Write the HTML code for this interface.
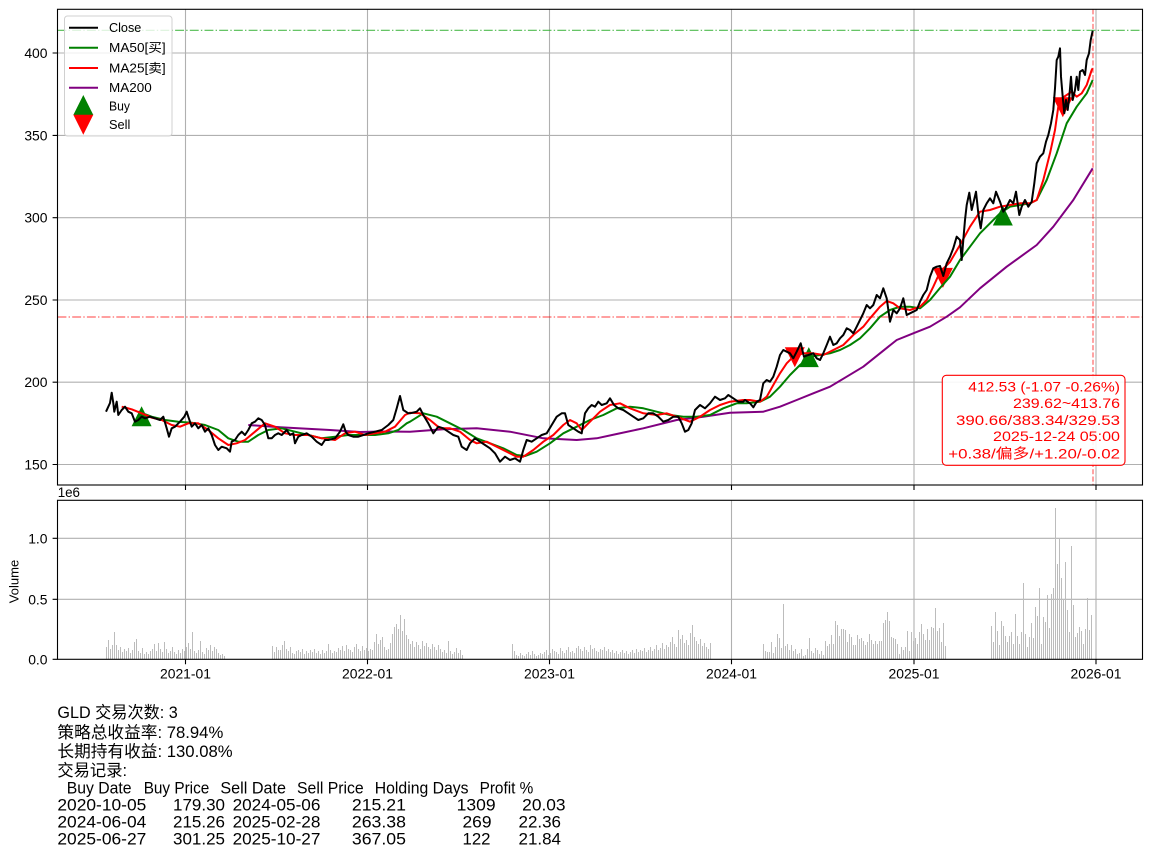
<!DOCTYPE html>
<html><head><meta charset="utf-8"><style>html,body{margin:0;padding:0;background:#fff}svg{display:block}text{font-family:"Liberation Sans","Noto Sans CJK SC",sans-serif}</style></head>
<body>
<svg width="1152" height="857" viewBox="0 0 1152 857" xmlns="http://www.w3.org/2000/svg">
<rect width="1152" height="857" fill="#fff"/>
<defs>
<clipPath id="cm"><rect x="57.5" y="9.3" width="1085" height="475.7"/></clipPath>
<clipPath id="cv"><rect x="57.5" y="500.3" width="1085" height="159"/></clipPath>
</defs>
<!-- main grid -->
<g stroke="#b0b0b0" stroke-width="1.1" fill="none">
<path d="M57.5 53H1142.5M57.5 135.4H1142.5M57.5 217.7H1142.5M57.5 300H1142.5M57.5 382.2H1142.5M57.5 464.5H1142.5"/>
<path d="M185.5 9.3V485M367.5 9.3V485M549.5 9.3V485M731.5 9.3V485M914 9.3V485M1096 9.3V485"/>
<path d="M57.5 599.3H1142.5M57.5 538.3H1142.5"/>
<path d="M185.5 500.3V659.3M367.5 500.3V659.3M549.5 500.3V659.3M731.5 500.3V659.3M914 500.3V659.3M1096 500.3V659.3"/>
</g>
<g clip-path="url(#cm)">
<path d="M57.5 30.3H1142.5" stroke="#33b033" stroke-opacity="0.85" stroke-width="1.2" stroke-dasharray="8.9 2.2 1.4 2.2"/>
<path d="M57.5 317H1142.5" stroke="#ff0000" stroke-opacity="0.6" stroke-width="1.2" stroke-dasharray="8.9 2.2 1.4 2.2"/>
<path d="M1093 9.3V485" stroke="#ff0000" stroke-opacity="0.6" stroke-width="1.2" stroke-dasharray="5.1 2.2"/>
<!-- markers -->
<g fill="#008000">
<polygon points="141.6,406.3 131.6,426.3 151.6,426.3"/>
<polygon points="808.8,347.1 798.8,367.1 818.8,367.1"/>
<polygon points="1002.8,205.5 992.8,225.5 1012.8,225.5"/>
</g>
<g fill="#ff0000">
<polygon points="794.8,367.2 784.8,347.2 804.8,347.2"/>
<polygon points="942.9,287.9 932.9,267.9 952.9,267.9"/>
<polygon points="1062.8,117.2 1052.8,97.2 1072.8,97.2"/>
</g>
<g fill="none" stroke-width="2" stroke-linejoin="round">
<polyline stroke="#800080" points="248.3,425 280,427.3 330,430 360,432 385,431.5 410,431.7 443.3,429.3 476.7,428.3 510,431.7 543.3,438.3 576.7,440 596.7,438.3 616.7,434 643.3,428.3 676.7,420 703.3,416.7 730,412.7 763.3,411.7 780,406.7 796.7,400 813.3,393.3 830,386.7 846.7,376.7 863.3,366.7 880,353.3 896.7,340 913.3,333.3 930,326.7 946.7,316.7 960,307.3 980,288.3 1006.7,266.7 1036.7,245 1053.3,226.7 1073.3,200 1092.7,168.3"/>
<polyline stroke="#008000" points="138.3,411.7 151.7,416.7 165,420 178.3,421.7 191.7,422.7 205,425 218.3,430 228.3,438.3 238.3,441.7 248.3,441.7 258.3,435 268.3,430 281.7,428.3 295,431.7 308.3,435 321.7,438.3 335,436.7 348.3,435 361.7,435 375,435 388.3,433.3 398.3,430 406.7,423.3 410,421.7 423.3,413.3 436.7,416.7 450,423.3 463.3,430 476.7,438.3 490,443.3 503.3,448.3 516.7,455 525,456 536.7,451.7 550,443.3 563.3,433.3 576.7,426.7 590,420 603.3,415 616.7,408.3 630,406.7 643.3,408.3 656.7,411.7 670,415 683.3,416.7 696.7,416.7 710,415 723.3,408.3 736.7,403.3 746.7,403.3 760,401.7 770,396.7 780,386.7 790,375 800,365 810,356.7 820,355 830,353.3 840,350 850,345 860,338.3 870,328.3 880,316.7 890,310 900,306.7 910,306.7 920,308.3 930,300 940,288 950,276.7 960,260 970,246.7 980,233.3 990,223.3 1000,213.3 1010,206.7 1020,205 1030,203.3 1036.7,200 1046.7,180 1056.7,153.3 1066.7,123.3 1076.7,106.7 1086.7,93.3 1092.7,80"/>
<polyline stroke="#ff0000" points="121.7,406.7 131.7,409.3 141.7,413.3 151.7,417.7 161.7,420 171.7,425 180,426.7 188.3,423.3 198.3,423.3 208.3,430 218.3,438.3 228.3,445 236.7,443.3 245,440 255,431.7 265,423.3 275,426.7 285,433.3 295,435 308.3,435 321.7,438.3 335,440 345,433.3 355,431.7 365,435 375,433.3 385,431.7 395,426.7 405,415 410,412.7 420,413.3 430,420 440,428.3 450,428.3 460,431.7 470,440 476.7,443.3 486.7,441.7 496.7,446.7 506.7,451.7 516.7,456.7 523.3,456.7 533.3,450 543.3,441.7 553.3,435 563.3,425 570,420 576.7,423.3 581.7,430 590,421.7 600,411.7 610,405 620,403.3 630,408.3 643.3,413.3 656.7,415 666.7,413.3 676.7,416.7 690,421.7 700,416.7 710,410 720,405 730,401.7 743.3,400 750,400 760,401.7 766.7,396.7 773.3,385 780,373.3 786.7,363.3 793.3,356.7 803.3,353.3 813.3,353.3 823.3,355 833.3,350 843.3,345 853.3,335 863.3,326.7 870,318.3 880,306.7 886.7,301 893.3,303.3 900,308.3 910,310 920,306.7 926.7,300 933.3,286.7 940,272 950,262 960,245 970,226.7 980,211.7 990,210 1000,206.7 1010,205 1020,203.3 1030,203.3 1036.7,200 1043.3,180 1050,153.3 1055,130 1058.3,106.7 1061.7,98.3 1066.7,95 1071.7,91.7 1076.7,96.7 1081.7,93.3 1086.7,85 1091.7,70 1092.7,68.3"/>
<polyline stroke="#000" points="106,411.7 110,403 111.7,392.7 113.3,403 114.3,411.7 116.7,401.7 118.3,415 121.7,410 125,406.7 128.3,411.7 131.7,413.3 135,421.7 138.3,420 141.7,416.7 145,418.3 150,416.7 155,418.3 160,420 163.3,416.7 166.7,428.3 169,436.7 171.7,428.3 175,426.7 180,421.7 184.3,416.7 186.7,411.7 188.3,416.7 191.7,426.7 195,423.3 198.3,428.3 201.7,425 205,431.7 208.3,428.3 211.7,435 215,445 218.3,450 221.7,446.7 226.7,448.3 230,451.7 231.7,441.7 235,440 238.3,435 241.7,431.7 245,435 248.3,430 251.7,423.3 255,421.7 258.3,418.3 261.7,420 265,425 268.3,438.3 271.7,438.3 275,435 278.3,433.3 281.7,435 286.7,430 290,435 293.3,433.3 295,443.3 298.3,436.7 301.7,435 306.7,433.3 311.7,436.7 316.7,441.7 321.7,445 325,440 328.3,440 335,438.3 340,431.7 343.3,424.3 345.7,431.7 348.3,435 353.3,436.7 358.3,436.7 363.3,435 368.3,433.3 375,431.7 381.7,430 388.3,425 393.3,420 396.7,408.3 400,396 403.3,410 408.3,413.3 410,413.3 416.7,411.7 420,408.3 423.3,415 428.3,423.3 433.3,433.3 438.3,426.7 443.3,428.3 448.3,431.7 453.3,435 458.3,436.7 461.7,446.7 466.7,450 470,443.3 475,438.3 480,441.7 485,445 490,448.3 495,453.3 500,461.7 505,456.7 510,460 515,458.3 520,461.7 523.3,450 526.7,440 531.7,441.7 536.7,438.3 541.7,435 546.7,433.3 551.7,425 556.7,416.7 561.7,413.3 565,413.3 568.3,425 573.3,428.3 578.3,431.7 581.7,433.3 585,413.3 588.3,408.3 591.7,405 595,406.7 598.3,401.7 601.7,405 606.7,403.3 610,398.3 614,405 618.3,408.3 623.3,410 628.3,413.3 633.3,416.7 638.3,420 643.3,418.3 648.3,413.3 653.3,413.3 658.3,416.7 663.3,421.7 668.3,420 673.3,416.7 678.3,416.7 681.7,423.3 685,431.7 688.3,430 691.7,423.3 695,410 700,405 705,408.3 710,403.3 715,396.7 720,400 725,398.3 728.3,395 733.3,398.3 738.3,401.7 743.3,401.7 745,400 750,403.3 753.3,407.3 756.7,401.7 760,400 763.3,383.3 766.7,380 770,381.7 773.3,376.7 776.7,366.7 780,355 783.3,350 786.7,351.7 790,353.3 793.3,358.3 796.7,351.7 800.7,343.3 804,356.7 808.3,355 813.3,353.3 816.7,358.3 820,360 823.3,353.3 826.7,345 830,336.7 833.3,345 836.7,343.3 840,338.3 843.3,335 846.7,328.3 850,330 853.3,333.3 856.7,326.7 860,320 863.3,313.3 866.7,305 870,308.3 873.3,305 876.7,295 880,298.3 883.3,288.3 886.7,298.3 890,321.7 893.3,310 896.7,313.3 900,308.3 903.3,298.3 906.7,315 910,313.3 913.3,311.7 916.7,310 920,301.7 923.3,295 926.7,290 930,276.7 933.3,268.3 936.7,266.7 940,266 943.3,276 946.7,263.3 950,256.7 953.3,248.3 956.7,236.7 960,240 961.7,260 963.3,240 965,220 966.7,205 969.3,192.7 971.7,210 973.3,203.3 976,191.7 978.3,213.3 980.7,228.3 983.3,210 986.7,203.3 990,198.3 993.3,203.3 996,191.7 1000,201.7 1003.3,211.7 1006.7,206.7 1010,200 1013.3,203.3 1016,191.7 1019.3,215 1021.7,206.7 1025,200 1028.3,206.7 1031.7,201.7 1034.3,183.3 1036.7,163.3 1040,156.7 1043.3,153.3 1046,141.7 1048.3,135 1051,123.3 1053.3,110 1055,88.3 1056.7,60 1058.3,56.7 1060,48.3 1061,76.7 1062.7,96.7 1064.3,113.3 1066,100 1067.7,110 1069.3,96.7 1071,76.7 1072.7,100 1075,90 1076.7,76.7 1078.3,90 1080,71.7 1082.7,70 1085,75 1086.7,60 1089,53.3 1090.7,40 1092.7,30.7"/>
</g>
</g>
<!-- annotation box -->
<rect x="942.3" y="375.3" width="182.7" height="90" rx="4" fill="#fff" fill-opacity="0.9" stroke="#ff0000" stroke-width="1.1"/>
<g fill="#ff0000" font-size="14" text-anchor="end">
<text x="1120" y="391.7" textLength="151.7" lengthAdjust="spacingAndGlyphs">412.53 (-1.07 -0.26%)</text>
<text x="1120" y="408" textLength="107" lengthAdjust="spacingAndGlyphs">239.62~413.76</text>
<text x="1120" y="425" textLength="164" lengthAdjust="spacingAndGlyphs">390.66/383.34/329.53</text>
<text x="1120" y="441" textLength="127" lengthAdjust="spacingAndGlyphs">2025-12-24 05:00</text>
<text x="1120" y="458.3" textLength="171.7" lengthAdjust="spacingAndGlyphs">+0.38/偏多/+1.20/-0.02</text>
</g>
<!-- legend -->
<rect x="64.5" y="16" width="107.5" height="120" rx="3" fill="#fff" fill-opacity="0.8" stroke="#d0d0d0" stroke-width="1"/>
<g stroke-width="2">
<path d="M69 27.7H98" stroke="#000"/>
<path d="M69 47.7H98" stroke="#008000"/>
<path d="M69 68H98" stroke="#ff0000"/>
<path d="M69 87.7H98" stroke="#800080"/>
</g>
<polygon points="83.3,95 73.3,115 93.3,115" fill="#008000"/>
<polygon points="83.3,134.7 73.3,114.7 93.3,114.7" fill="#ff0000"/>
<g font-size="12.5" fill="#000">
<text x="109" y="32.2" textLength="32.3" lengthAdjust="spacingAndGlyphs">Close</text>
<text x="109" y="52.2" textLength="56.7" lengthAdjust="spacingAndGlyphs">MA50[买]</text>
<text x="109" y="72.5" textLength="56.7" lengthAdjust="spacingAndGlyphs">MA25[卖]</text>
<text x="109" y="92.2" textLength="42.7" lengthAdjust="spacingAndGlyphs">MA200</text>
<text x="109" y="110.5" textLength="21" lengthAdjust="spacingAndGlyphs">Buy</text>
<text x="109" y="129.2" textLength="21.3" lengthAdjust="spacingAndGlyphs">Sell</text>
</g>
<!-- volume bars -->
<g clip-path="url(#cv)">
<path transform="translate(0.5,0)" stroke="#bcbcbc" stroke-width="1" fill="none" d="M106 647V659M108 640V659M110 649V659M112 645V659M114 632V659M116 645V659M118 650V659M120 647V659M122 652V659M124 649V659M126 651V659M128 648V659M130 653V659M132 650V659M134 642V659M136 639V659M138 651V659M140 653V659M142 648V659M144 654V659M146 652V659M148 654V659M150 651V659M152 649V659M154 644V659M156 651V659M158 643V659M160 649V659M162 652V659M164 642V659M166 649V659M168 653V659M170 651V659M172 647V659M174 652V659M176 654V659M178 650V659M180 653V659M182 649V659M184 651V659M186 647V659M188 643V659M190 649V659M192 632V659M194 651V659M196 653V659M198 650V659M200 641V659M202 652V659M204 654V659M206 648V659M208 650V659M210 645V659M212 651V659M214 647V659M216 649V659M218 653V659M220 655V659M222 654V659M224 656V659
M272 646V659M274 652V659M276 647V659M278 650V659M280 650V659M282 645V659M284 641V659M286 649V659M288 651V659M290 647V659M292 653V659M294 654V659M296 651V659M298 650V659M300 652V659M302 649V659M304 654V659M306 651V659M308 653V659M310 650V659M312 652V659M314 649V659M316 653V659M318 651V659M320 654V659M322 650V659M324 653V659M326 651V659M328 644V659M330 650V659M332 653V659M334 651V659M336 652V659M338 648V659M340 650V659M342 646V659M344 651V659M346 645V659M348 649V659M350 650V659M352 652V659M354 647V659M356 644V659M358 649V659M360 651V659M362 646V659M364 650V659M366 648V659M368 651V659M370 649V659M372 650V659M374 642V659M376 634V659M378 644V659M380 640V659M382 637V659M384 647V659M386 650V659M388 649V659M390 643V659M392 634V659M394 627V659M396 624V659M398 629V659M400 615V659M402 631V659M404 619V659M406 635V659M408 639V659M410 644V659M412 641V659M414 647V659M416 642V659M418 645V659M420 649V659M422 641V659M424 646V659M426 643V659M428 647V659M430 649V659M432 644V659M434 647V659M436 650V659M438 645V659M440 649V659M442 652V659M444 650V659M446 653V659M448 641V659M450 651V659M452 654V659M454 652V659M456 648V659M458 653V659M460 650V659M462 655V659
M512 644V659M514 651V659M516 655V659M518 656V659M520 653V659M522 655V659M524 656V659M526 654V659M528 652V659M530 655V659M532 651V659M534 654V659M536 656V659M538 655V659M540 653V659M542 654V659M544 652V659M546 650V659M548 655V659M550 653V659M552 649V659M554 651V659M556 652V659M558 654V659M560 648V659M562 651V659M564 653V659M566 650V659M568 647V659M570 652V659M572 651V659M574 653V659M576 648V659M578 646V659M580 649V659M582 651V659M584 647V659M586 650V659M588 652V659M590 645V659M592 649V659M594 648V659M596 651V659M598 652V659M600 649V659M602 650V659M604 647V659M606 651V659M608 649V659M610 652V659M612 650V659M614 653V659M616 651V659M618 654V659M620 652V659M622 650V659M624 653V659M626 651V659M628 654V659M630 652V659M632 650V659M634 653V659M636 649V659M638 652V659M640 650V659M642 651V659M644 648V659M646 652V659M648 650V659M650 647V659M652 651V659M654 649V659M656 645V659M658 650V659M660 648V659M662 643V659M664 649V659M666 645V659M668 647V659M670 642V659M672 637V659M674 644V659M676 647V659M678 630V659M680 639V659M682 635V659M684 643V659M686 640V659M688 645V659M690 633V659M692 625V659M694 637V659M696 641V659M698 644V659M700 639V659M702 646V659M704 643V659M706 647V659M708 649V659M710 643V659
M763 644V659M765 651V659M767 652V659M769 652V659M771 642V659M773 653V659M775 647V659M777 634V659M779 638V659M781 648V659M783 604V659M785 646V659M787 644V659M789 650V659M791 645V659M793 651V659M795 649V659M797 654V659M799 653V659M801 649V659M803 656V659M805 655V659M807 649V659M809 638V659M811 651V659M813 653V659M815 648V659M817 650V659M819 654V659M821 651V659M823 655V659M825 641V659M827 646V659M829 644V659M831 635V659M833 644V659M835 621V659M837 625V659M839 636V659M841 629V659M843 629V659M845 630V659M847 642V659M849 634V659M851 637V659M853 645V659M855 645V659M857 635V659M859 639V659M861 638V659M863 641V659M865 645V659M867 642V659M869 634V659M871 640V659M873 644V659M875 641V659M877 644V659M879 641V659M881 641V659M883 623V659M885 620V659M887 612V659M889 621V659M891 637V659M893 638V659M895 639V659M897 644V659M899 654V659M901 647V659M903 650V659M905 647V659M907 631V659M909 651V659M911 632V659M913 641V659M915 638V659M917 644V659M919 632V659M921 624V659M923 634V659M925 640V659M927 629V659M929 640V659M931 627V659M933 628V659M935 608V659M937 631V659M939 628V659M941 642V659M943 623V659M945 646V659
M991 626V659M993 642V659M995 612V659M997 631V659M999 645V659M1001 621V659M1003 626V659M1005 636V659M1007 642V659M1009 636V659M1011 632V659M1013 644V659M1015 614V659M1017 636V659M1019 644V659M1021 632V659M1023 583V659M1025 634V659M1027 647V659M1029 637V659M1031 623V659M1033 638V659M1035 607V659M1037 616V659M1039 588V659M1041 644V659M1043 617V659M1045 622V659M1047 595V659M1049 628V659M1051 594V659M1053 588V659M1055 508V659M1057 564V659M1059 539V659M1061 578V659M1063 599V659M1065 562V659M1067 610V659M1069 632V659M1071 546V659M1073 605V659M1075 637V659M1077 633V659M1079 627V659M1081 631V659M1083 644V659M1085 629V659M1087 598V659M1089 630V659M1091 615V659"/>
</g>
<!-- spines -->
<rect x="57.5" y="9.3" width="1085" height="475.7" fill="none" stroke="#000" stroke-width="1.1"/>
<rect x="57.5" y="500.3" width="1085" height="159" fill="none" stroke="#000" stroke-width="1.1"/>
<!-- ticks -->
<g stroke="#000" stroke-width="1.1">
<path d="M52.6 53H57.5M52.6 135.4H57.5M52.6 217.7H57.5M52.6 300H57.5M52.6 382.2H57.5M52.6 464.5H57.5"/>
<path d="M185.5 485V490M367.5 485V490M549.5 485V490M731.5 485V490M914 485V490M1096 485V490"/>
<path d="M52.6 659.3H57.5M52.6 599.3H57.5M52.6 538.3H57.5"/>
<path d="M185.5 659.3V664.2M367.5 659.3V664.2M549.5 659.3V664.2M731.5 659.3V664.2M914 659.3V664.2M1096 659.3V664.2"/>
</g>
<g font-size="13.9" fill="#000" text-anchor="end">
<text x="47.5" y="58">400</text>
<text x="47.5" y="140.4">350</text>
<text x="47.5" y="222.7">300</text>
<text x="47.5" y="305">250</text>
<text x="47.5" y="387.2">200</text>
<text x="47.5" y="469.5">150</text>
<text x="47.5" y="664.3">0.0</text>
<text x="47.5" y="604.3">0.5</text>
<text x="47.5" y="543.3">1.0</text>
</g>
<text x="57.7" y="497" font-size="13.9" textLength="22.3" lengthAdjust="spacingAndGlyphs">1e6</text>
<text transform="translate(18.3,581.5) rotate(-90)" font-size="13" text-anchor="middle">Volume</text>
<g font-size="13.9" fill="#000" text-anchor="middle">
<text x="185.5" y="678.5">2021-01</text>
<text x="367.5" y="678.5">2022-01</text>
<text x="549.5" y="678.5">2023-01</text>
<text x="731.5" y="678.5">2024-01</text>
<text x="914" y="678.5">2025-01</text>
<text x="1096" y="678.5">2026-01</text>
</g>
<!-- bottom text -->
<g font-size="16.7" fill="#000">
<text x="57.4" y="718" textLength="120.4" lengthAdjust="spacingAndGlyphs">GLD 交易次数: 3</text>
<text x="57.4" y="738" textLength="165.9" lengthAdjust="spacingAndGlyphs">策略总收益率: 78.94%</text>
<text x="57.4" y="757" textLength="175.2" lengthAdjust="spacingAndGlyphs">长期持有收益: 130.08%</text>
<text x="57.4" y="776" textLength="69.6" lengthAdjust="spacingAndGlyphs">交易记录:</text>
<text x="66.7" y="793.5" textLength="64.8" lengthAdjust="spacingAndGlyphs">Buy Date</text>
<text x="143.7" y="793.5" textLength="65.6" lengthAdjust="spacingAndGlyphs">Buy Price</text>
<text x="220.4" y="793.5" textLength="65.6" lengthAdjust="spacingAndGlyphs">Sell Date</text>
<text x="297" y="793.5" textLength="66.7" lengthAdjust="spacingAndGlyphs">Sell Price</text>
<text x="374.8" y="793.5" textLength="93.7" lengthAdjust="spacingAndGlyphs">Holding Days</text>
<text x="479.6" y="793.5" textLength="53.7" lengthAdjust="spacingAndGlyphs">Profit %</text>

<text x="57.4" y="810.5" textLength="88.9" lengthAdjust="spacingAndGlyphs">2020-10-05</text>
<text x="173" y="810.5" textLength="52" lengthAdjust="spacingAndGlyphs">179.30</text>
<text x="232.6" y="810.5" textLength="87.8" lengthAdjust="spacingAndGlyphs">2024-05-06</text>
<text x="351.9" y="810.5" textLength="54.1" lengthAdjust="spacingAndGlyphs">215.21</text>
<text x="456.7" y="810.5" textLength="38.9" lengthAdjust="spacingAndGlyphs">1309</text>
<text x="522.2" y="810.5" textLength="43.4" lengthAdjust="spacingAndGlyphs">20.03</text>

<text x="57.4" y="827.5" textLength="88.9" lengthAdjust="spacingAndGlyphs">2024-06-04</text>
<text x="173" y="827.5" textLength="52" lengthAdjust="spacingAndGlyphs">215.26</text>
<text x="232.6" y="827.5" textLength="87.8" lengthAdjust="spacingAndGlyphs">2025-02-28</text>
<text x="351.9" y="827.5" textLength="54.1" lengthAdjust="spacingAndGlyphs">263.38</text>
<text x="462.5" y="827.5" textLength="29" lengthAdjust="spacingAndGlyphs">269</text>
<text x="518.5" y="827.5" textLength="42.5" lengthAdjust="spacingAndGlyphs">22.36</text>

<text x="57.4" y="844.5" textLength="88.9" lengthAdjust="spacingAndGlyphs">2025-06-27</text>
<text x="173" y="844.5" textLength="52" lengthAdjust="spacingAndGlyphs">301.25</text>
<text x="232.6" y="844.5" textLength="87.8" lengthAdjust="spacingAndGlyphs">2025-10-27</text>
<text x="351.9" y="844.5" textLength="54.1" lengthAdjust="spacingAndGlyphs">367.05</text>
<text x="462.5" y="844.5" textLength="28" lengthAdjust="spacingAndGlyphs">122</text>
<text x="518.5" y="844.5" textLength="42.5" lengthAdjust="spacingAndGlyphs">21.84</text>
</g>
</svg>
</body></html>
